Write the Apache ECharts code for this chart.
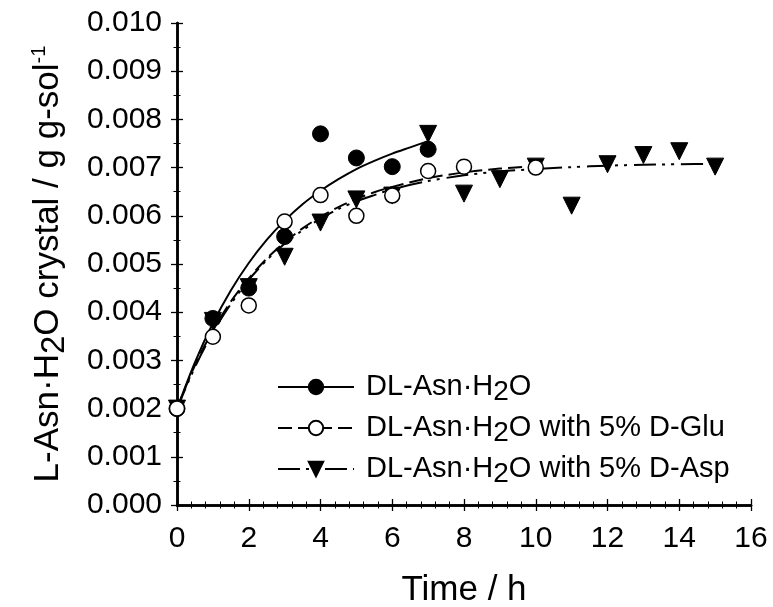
<!DOCTYPE html>
<html>
<head>
<meta charset="utf-8">
<script src="https://cdn.jsdelivr.net/npm/echarts@6/dist/echarts.min.js"></script>
<style>html,body{margin:0;padding:0;background:#fff}#c{width:773px;height:607px}</style>
</head>
<body>
<div id="c"></div>
<script>
// ---- data ----
const seriesNames = ['DL-Asn·H2O', 'DL-Asn·H2O with 5% D-Glu', 'DL-Asn·H2O with 5% D-Asp'];

const timeAsn = [0, 1, 2, 3, 4, 5, 6, 7];
const valAsn = [0.00200, 0.00387, 0.00450, 0.00557, 0.00770, 0.00720, 0.00702, 0.00738];

const timeGlu = [0, 1, 2, 3, 4, 5, 6, 7, 8, 10];
const valGlu = [0.00200, 0.00349, 0.00414, 0.00588, 0.00643, 0.00600, 0.00642, 0.00693, 0.00702, 0.00700];

const timeAsp = [0, 1, 2, 3, 4, 5, 6, 7, 8, 9, 10, 11, 12, 13, 14, 15];
const valAsp = [0.00200, 0.00382, 0.00452, 0.00515, 0.00586, 0.00634, 0.00642, 0.00770, 0.00646, 0.00676, 0.00702, 0.00621, 0.00707, 0.00726, 0.00734, 0.00702];

// fitted curves
const fitTimeAsn = [0, 0.5, 1, 1.5, 2, 2.5, 3, 3.5, 4, 4.5, 5, 5.5, 6, 6.5, 7];
const fitAsn = [0.00200, 0.00296, 0.00377, 0.00445, 0.00502, 0.00550, 0.00590, 0.00624, 0.00652, 0.00676, 0.00697, 0.00714, 0.00729, 0.00742, 0.00755];

const fitTimeGlu = [0, 0.5, 1, 1.5, 2, 2.5, 3, 3.5, 4, 4.5, 5, 5.5, 6, 7, 8, 9, 10];
const fitGlu = [0.00200, 0.00290, 0.00362, 0.00422, 0.00470, 0.00511, 0.00545, 0.00574, 0.00598, 0.00618, 0.00635, 0.00649, 0.00660, 0.00678, 0.00690, 0.00698, 0.00703];

const fitTimeAsp = [0, 0.5, 1, 1.5, 2, 2.5, 3, 3.5, 4, 4.5, 5, 5.5, 6, 7, 8, 9, 10, 11, 12, 13, 14, 15];
const fitAsp = [0.00200, 0.00286, 0.00358, 0.00417, 0.00467, 0.00508, 0.00542, 0.00570, 0.00594, 0.00614, 0.00630, 0.00643, 0.00655, 0.00672, 0.00684, 0.00692, 0.00697, 0.00701, 0.00704, 0.00706, 0.00707, 0.00708];

const xTicks = [0, 2, 4, 6, 8, 10, 12, 14, 16];
const yTicks = [0.000, 0.001, 0.002, 0.003, 0.004, 0.005, 0.006, 0.007, 0.008, 0.009, 0.010];

// ---- build ----
const pairs = (xs, ys) => xs.map((x, i) => [x, ys[i]]);
const FONT = '"Liberation Sans", Arial, sans-serif';

const filled = { color: '#000', borderColor: '#000', borderWidth: 1, opacity: 1 };
const hollow = { color: '#fff', borderColor: '#000', borderWidth: 1.5, opacity: 1 };

function fitSeries(name, data, dash, symbol, rotate, item) {
  return {
    name: name, type: 'line', data: data, smooth: 0.3,
    symbol: symbol, symbolRotate: rotate, symbolSize: 14, showSymbol: false,
    itemStyle: item,
    lineStyle: { color: '#000', width: 2, type: dash, opacity: 1 },
    z: 2, silent: true, animation: false
  };
}
function pointSeries(name, data, symbol, rotate, size, item, z) {
  return {
    name: name, type: 'scatter', data: data,
    symbol: symbol, symbolRotate: rotate, symbolSize: size,
    itemStyle: item, z: z, animation: false
  };
}

const axisCommon = {
  type: 'value',
  axisLine: { show: true, lineStyle: { color: '#000', width: 2.5 } },
  axisTick: { show: true, inside: true, length: 6, lineStyle: { color: '#000', width: 1.3 } },
  minorTick: { show: true, length: 3.5, lineStyle: { color: '#000', width: 1 } },
  splitLine: { show: false },
  minorSplitLine: { show: false }
};

const option = {
  animation: false,
  backgroundColor: '#fff',
  grid: { left: 177, right: 22, top: 23, bottom: 102, outerBoundsMode: 'none', containLabel: false },
  xAxis: [
    Object.assign({}, axisCommon, {
      position: 'bottom', min: xTicks[0], max: xTicks[xTicks.length - 1], interval: 2,
      minorTick: Object.assign({}, axisCommon.minorTick, { splitNumber: 5 }),
      axisLabel: { show: true, fontSize: 30, color: '#000', fontFamily: FONT, margin: 19 },
      name: 'Time / h', nameLocation: 'middle', nameGap: 68,
      nameTextStyle: { fontSize: 35, color: '#000', fontFamily: FONT }
    }),
    Object.assign({}, axisCommon, {
      position: 'top', min: xTicks[0], max: xTicks[xTicks.length - 1], interval: 2,
      minorTick: Object.assign({}, axisCommon.minorTick, { splitNumber: 5 }),
      axisLabel: { show: false }
    })
  ],
  yAxis: [
    Object.assign({}, axisCommon, {
      position: 'left', min: yTicks[0], max: yTicks[yTicks.length - 1], interval: 0.001,
      minorTick: Object.assign({}, axisCommon.minorTick, { splitNumber: 2 }),
      axisLabel: { show: true, fontSize: 30, color: '#000', fontFamily: FONT, margin: 15,
        formatter: v => v.toFixed(3) },
      name: 'L-Asn·H{sub|2}O crystal / g g-sol{sup|-1}', nameLocation: 'middle', nameGap: 106,
      nameRotate: 90,
      nameTextStyle: { fontSize: 35, color: '#000', fontFamily: FONT,
        rich: {
          sub: { fontSize: 33, color: '#000', fontFamily: FONT, padding: [12, 0, 0, 0] },
          sup: { fontSize: 20, color: '#000', fontFamily: FONT, padding: [0, 0, 18, 0] }
        }
      }
    }),
    Object.assign({}, axisCommon, {
      position: 'right', min: yTicks[0], max: yTicks[yTicks.length - 1], interval: 0.001,
      minorTick: Object.assign({}, axisCommon.minorTick, { splitNumber: 2 }),
      axisLabel: { show: false }
    })
  ],
  legend: {
    data: seriesNames,
    orient: 'vertical', left: 277, top: 368, padding: 0,
    itemWidth: 76, itemHeight: 18, itemGap: 3,
    textStyle: { fontSize: 29, lineHeight: 30, color: '#000', fontFamily: FONT, padding: [0, 0, 0, 7],
      rich: { sub: { fontSize: 28, lineHeight: 24, color: '#000', fontFamily: FONT, padding: [10, 0, 0, 0] } } },
    formatter: n => n.replace('H2O', 'H{sub|2}O'),
    selectedMode: false
  },
  series: [
    fitSeries(seriesNames[0], pairs(fitTimeAsn, fitAsn), 'solid', 'circle', 0, filled),
    fitSeries(seriesNames[1], pairs(fitTimeGlu, fitGlu), [14, 6], 'circle', 0, hollow),
    fitSeries(seriesNames[2], pairs(fitTimeAsp, fitAsp), [22, 6, 3, 6, 3, 7], 'triangle', 180, filled),
    pointSeries(seriesNames[0], pairs(timeAsn, valAsn), 'circle', 0, 16, filled, 5),
    pointSeries(seriesNames[2], pairs(timeAsp, valAsp), 'triangle', 180, 17, filled, 6),
    pointSeries(seriesNames[1], pairs(timeGlu, valGlu), 'circle', 0, 15, hollow, 7)
  ]
};

const chart = echarts.init(document.getElementById('c'), null, { renderer: 'canvas' });
chart.setOption(option);
</script>
</body>
</html>
